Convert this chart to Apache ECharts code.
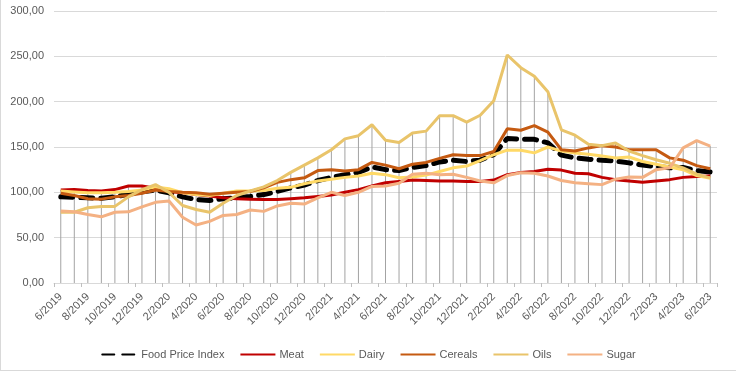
<!DOCTYPE html>
<html>
<head>
<meta charset="utf-8">
<script src="https://cdn.jsdelivr.net/npm/echarts@6/dist/echarts.min.js"></script>
<style>
html,body{margin:0;padding:0;background:#fff;}
#chart{width:736px;height:371px;box-sizing:border-box;border-left:1px solid #d9d9d9;border-bottom:1px solid #d9d9d9;}
</style>
</head>
<body>
<div id="chart"></div>
<script>
const months = ["6/2019","7/2019","8/2019","9/2019","10/2019","11/2019","12/2019",
  "1/2020","2/2020","3/2020","4/2020","5/2020","6/2020","7/2020","8/2020","9/2020","10/2020","11/2020","12/2020",
  "1/2021","2/2021","3/2021","4/2021","5/2021","6/2021","7/2021","8/2021","9/2021","10/2021","11/2021","12/2021",
  "1/2022","2/2022","3/2022","4/2022","5/2022","6/2022","7/2022","8/2022","9/2022","10/2022","11/2022","12/2022",
  "1/2023","2/2023","3/2023","4/2023","5/2023","6/2023"];

const foodPriceIndex = [95,94.5,94,93.5,95,98,100.5,102.5,99.5,95,92,91,93,94,95.5,97.5,101,105,108,113,116.5,119.5,122,128,125,124,127.5,129.5,133.5,135.5,134,135.5,141.5,159.5,158.5,158.5,154.5,141,138,136.5,135.5,134.5,132.5,130,128.5,127,127.5,124,122.5];
const meat = [102.5,103,102,101.5,103,107,107,104.5,101,99.5,97.5,96,94,93,92.5,92,92,93,94,95.5,97,100,103,107,110.5,112,113.5,113,112.5,112.5,112,112,113.5,119.5,122,123,125.5,124.5,121,120.5,116.5,114,112.5,111,112.5,114,116.5,117.5,118];
const dairy = [101.5,100.5,99.5,99.5,100,101,102.5,106,104,99.5,97.5,96.5,99,101.5,101.5,102,104.5,105.5,109.5,112.5,114.5,116.5,118,121,119.5,116,117,119,123,127,129,135,141.5,146.5,146.5,143.5,150,145.5,143.5,142,140,138,139,134,131,128,125,118.5,115.5];
const cereals = [99,96.5,93,92.5,95,96.5,99,102.5,101,100,99.5,98,99,100,101,105,111,114,116,124,125,123.5,125,133,130,126,131,133,137.5,141.5,140.5,140.5,145,170,168.5,173.5,166.5,147,145.5,149,151.5,150,147,147,147,138,135.5,129.5,126];
const oils = [78,78,83,84.5,84.5,95,103,108.5,100,85.5,81,78,88,96.5,101.5,106,113,122,130,138,147,159,162.5,174.5,157.5,155,165.5,167.5,184.5,184.5,177.5,185,201,251.5,237.5,228,211,169,163,153,151.5,154.5,145.5,140.5,136,132,127,120,116];
const sugar = [79.5,78.5,75.5,73,78,78.5,84,89,90.5,72.5,64,68,74.5,75.5,80.5,79,85,88,87,94,100,96.5,100,106.5,107,110,120,121,119.5,120,116.5,112.5,110.5,118.5,121.5,121,118,113,110.5,109.5,108.5,114.5,117,116.5,125,127,149,157,151];

const seriesNames = ["Food Price Index","Meat","Dairy","Cereals","Oils","Sugar"];
const seriesValues = [foodPriceIndex, meat, dairy, cereals, oils, sugar];
const seriesColors = ["#000000","#c00000","#ffd966","#c55a11","#e9c46a","#f4b183"];

// drop lines reach the highest series at each month
const dropTop = months.map((m, i) => Math.max(...seriesValues.map(s => s[i])));

const font = "Liberation Sans, Arial, sans-serif";
const chart = echarts.init(document.getElementById('chart'));

const lineSeries = seriesNames.map((name, k) => ({
  name: name,
  type: 'line',
  data: seriesValues[k],
  symbol: 'none',
  smooth: false,
  z: 3 + k,
  lineStyle: k === 0
    ? {color: seriesColors[k], width: 5, type: [12, 8], cap: 'round'}
    : {color: seriesColors[k], width: 3},
  itemStyle: {color: seriesColors[k]}
}));

chart.setOption({
  animation: false,
  grid: {left: 53, right: 19, top: 11, bottom: 87, containLabel: false},
  legend: {
    data: seriesNames,
    top: 344,
    left: 'center',
    itemWidth: 35,
    itemHeight: 14,
    itemGap: 15,
    itemStyle: {opacity: 0},
    textStyle: {fontFamily: font, fontSize: 11, color: '#595959', padding: [0, 0, 0, -1]}
  },
  xAxis: {
    type: 'category',
    data: months,
    boundaryGap: true,
    axisLine: {lineStyle: {color: '#d9d9d9'}},
    axisTick: {show: true, interval: 1, length: 4, lineStyle: {color: '#bfbfbf'}},
    axisLabel: {interval: 1, rotate: 45, margin: 12, fontFamily: font, fontSize: 11, color: '#595959'}
  },
  yAxis: {
    type: 'value',
    min: 0, max: 300, interval: 50,
    axisLine: {show: false},
    axisTick: {show: false},
    splitLine: {lineStyle: {color: '#d9d9d9'}},
    axisLabel: {margin: 10, fontFamily: font, fontSize: 11, color: '#595959',
      formatter: v => v.toFixed(2).replace('.', ',')}
  },
  series: [{
    name: 'drop',
    type: 'bar',
    data: dropTop,
    barWidth: 1,
    silent: true,
    z: 1,
    itemStyle: {color: '#a3a3a3'}
  }].concat(lineSeries)
});
</script>
</body>
</html>
